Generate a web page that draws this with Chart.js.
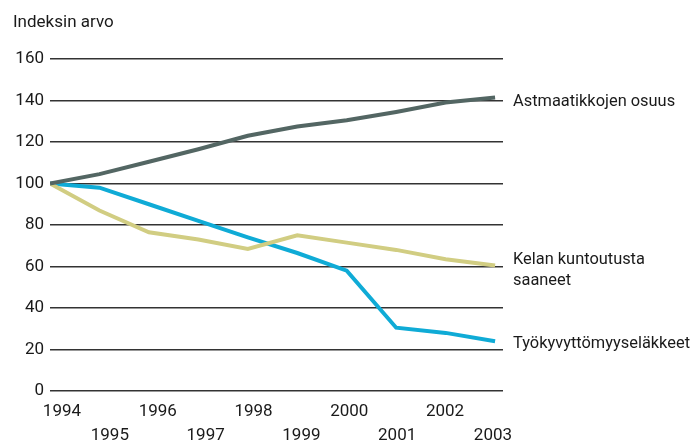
<!DOCTYPE html>
<html>
<head>
<meta charset="utf-8">
<script src="https://cdn.jsdelivr.net/npm/chart.js@4"></script>
<style>
  html, body { margin: 0; padding: 0; background: #fff; }
  #wrap { width: 695px; height: 441px; }
</style>
</head>
<body>
<div id="wrap"><canvas id="chart"></canvas></div>
<script>
// Data (index, 1994 = 100)
const years = [1994, 1995, 1996, 1997, 1998, 1999, 2000, 2001, 2002, 2003];
const astmaatikot = [100, 104.5, 110.5, 116.5, 123, 127.5, 130.5, 134.5, 139, 141.5];
const kuntoutus = [100, 87, 76.5, 73, 68.5, 75, 71.5, 68, 63.5, 60.5];
const elakkeet = [100, 98, 90, 82, 74, 66.5, 58, 30.5, 28, 24];
const seriesNames = ["Astmaatikkojen osuus", "Kelan kuntoutusta\nsaaneet", "Työkyvyttömyyseläkkeet"];
const yTicks = [0, 20, 40, 60, 80, 100, 120, 140, 160];

const FONT = "Roboto, 'Liberation Sans', sans-serif";
const toPoints = vals => vals.map((v, i) => ({ x: years[i], y: v }));

// title + labels at line ends
const labelsPlugin = {
  id: "endLabels",
  afterDatasetsDraw(chart) {
    const ctx = chart.ctx;
    ctx.save();
    ctx.fillStyle = "#1a1a1a";
    ctx.font = "17px " + FONT;
    ctx.textAlign = "left";
    ctx.textBaseline = "alphabetic";
    ctx.fillText("Indeksin arvo", 13, 27);
    ctx.font = "16.4px " + FONT;
    const dy = [[8.5], [-1.5, 19.5], [7]];
    chart.data.datasets.forEach((ds, i) => {
      const meta = chart.getDatasetMeta(i);
      const last = meta.data[meta.data.length - 1];
      seriesNames[i].split("\n").forEach((line, j) => {
        ctx.fillText(line, 513, last.y + dy[i][j]);
      });
    });
    ctx.restore();
  }
};

new Chart(document.getElementById("chart"), {
  type: "line",
  data: {
    datasets: [
      { label: seriesNames[0], data: toPoints(astmaatikot), borderColor: "#536663" },
      { label: seriesNames[1], data: toPoints(kuntoutus), borderColor: "#d1cd82" },
      { label: seriesNames[2], data: toPoints(elakkeet), borderColor: "#0fabd6" },
    ].map(d => Object.assign(d, { borderWidth: 4, pointRadius: 0, tension: 0, fill: false, borderJoinStyle: "miter" })),
  },
  options: {
    responsive: true,
    maintainAspectRatio: false,
    animation: false,
    layout: { padding: { left: 0, right: 192, top: 59, bottom: 0 } },
    plugins: {
      legend: { display: false },
      title: { display: false },
      tooltip: { enabled: false },
    },
    scales: {
      x: {
        type: "linear",
        display: false,
        min: 1994,
        max: 2003.16,
      },
      xl: {
        type: "linear",
        position: "bottom",
        min: 1993.75,
        max: 2003.21,
        afterBuildTicks: s => { s.ticks = years.map(v => ({ value: v })); },
        afterFit: s => { s.height = 50; },
        grid: { display: false },
        border: { display: false },
        ticks: {
          autoSkip: false,
          maxRotation: 0,
          padding: 1,
          color: "#1a1a1a",
          font: { family: FONT, size: 17, lineHeight: "24px" },
          callback: v => (v % 2 === 0 ? [String(v), ""] : ["", String(v)]),
        },
      },
      y: {
        min: 0,
        max: 160,
        afterBuildTicks: s => { s.ticks = yTicks.map(v => ({ value: v })); },
        afterFit: s => { s.width = 50; },
        border: { display: false },
        grid: { color: "#333333", lineWidth: 1.5, drawTicks: false },
        ticks: {
          padding: 6,
          color: "#1a1a1a",
          font: { family: FONT, size: 17 },
        },
      },
    },
  },
  plugins: [labelsPlugin],
});
</script>
</body>
</html>
